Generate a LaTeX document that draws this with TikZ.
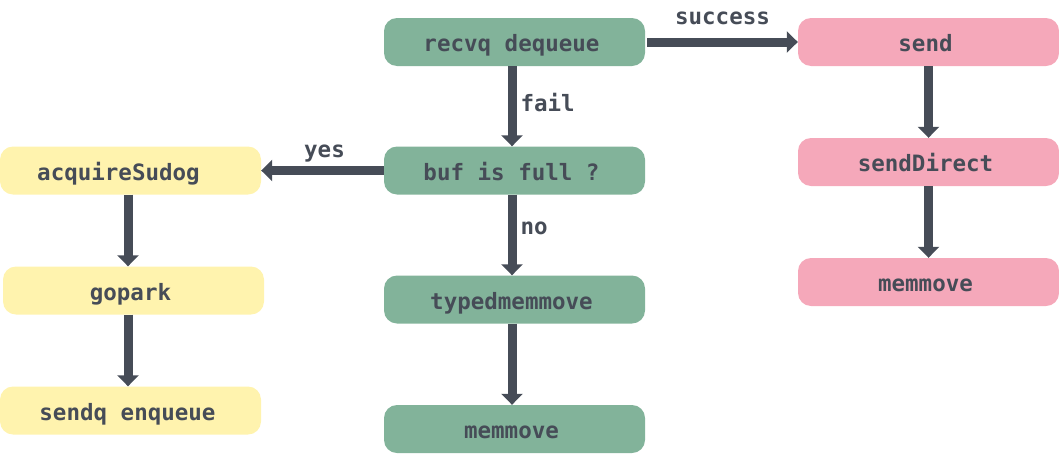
\documentclass[tikz,border=0pt]{standalone}
\usepackage{fontspec}
\setmonofont{DejaVu Sans Mono}
\usetikzlibrary{arrows.meta}
\definecolor{cgreen}{RGB}{130,179,154}
\definecolor{cpink}{RGB}{245,168,186}
\definecolor{cyellow}{RGB}{255,243,174}
\definecolor{cdark}{RGB}{70,76,87}
\tikzset{
  boxbase/.style={rectangle, rounded corners=13pt, inner sep=0pt, minimum width=261pt, minimum height=48pt, text height=19pt, text depth=0pt, text=cdark, font=\fontsize{22.5}{27}\selectfont\ttfamily\bfseries, execute at end node={\hspace{6pt}}},
  gbox/.style={boxbase, fill=cgreen},
  pbox/.style={boxbase, fill=cpink},
  ybox/.style={boxbase, fill=cyellow},
  flow/.style={draw=cdark, line width=9pt, -{Triangle[width=21pt,length=11pt]}},
  lbl/.style={text=cdark, font=\fontsize{22.5}{27}\selectfont\ttfamily\bfseries, inner sep=0pt}
}
\begin{document}
\begin{tikzpicture}[x=1pt,y=-1pt]
\useasboundingbox (0,0) rectangle (1059,453);
% green column
\node[gbox] (recvq) at (514.5,42) {recvq dequeue};
\node[gbox] (buf) at (514.5,170.5) {buf is full ?};
\node[gbox] (typed) at (514.5,299.5) {typedmemmove};
\node[gbox] (gmem) at (514.5,429) {memmove};
% pink column
\node[pbox] (send) at (928.5,42) {send};
\node[pbox] (sdirect) at (928.5,162) {sendDirect};
\node[pbox] (pmem) at (928.5,282) {memmove};
% yellow column
\node[ybox, execute at end node={\hspace{18pt}}] (acq) at (130.5,170.5) {acquireSudog};
\node[ybox] (gopark) at (133.5,290.5) {gopark};
\node[ybox] (sendq) at (130.5,410.5) {sendq enqueue};
% connectors
\draw[flow] ([xshift=2pt]recvq.east) -- (send.west) node[lbl, midway, above=13pt] {success};
\draw[flow] ([xshift=-2.5pt]recvq.south) -- ([xshift=-2.5pt]buf.north) node[lbl, midway, right=4pt, yshift=4pt] {fail};
\draw[flow] (buf.west) -- (acq.east) node[lbl, midway, above=4pt, xshift=2pt] {yes};
\draw[flow] ([xshift=-2.5pt]buf.south) -- ([xshift=-2.5pt]typed.north) node[lbl, midway, right=4pt, yshift=7pt] {no};
\draw[flow] ([xshift=-2.5pt]typed.south) -- ([xshift=-2.5pt]gmem.north);
\draw[flow] (send.south) -- (sdirect.north);
\draw[flow] (sdirect.south) -- (pmem.north);
\coordinate (ac) at ([xshift=-2.5pt]acq.south);
\draw[flow] (ac) -- (ac |- gopark.north);
\coordinate (gp) at (ac |- gopark.south);
\draw[flow] (gp) -- (gp |- sendq.north);
\end{tikzpicture}
\end{document}
